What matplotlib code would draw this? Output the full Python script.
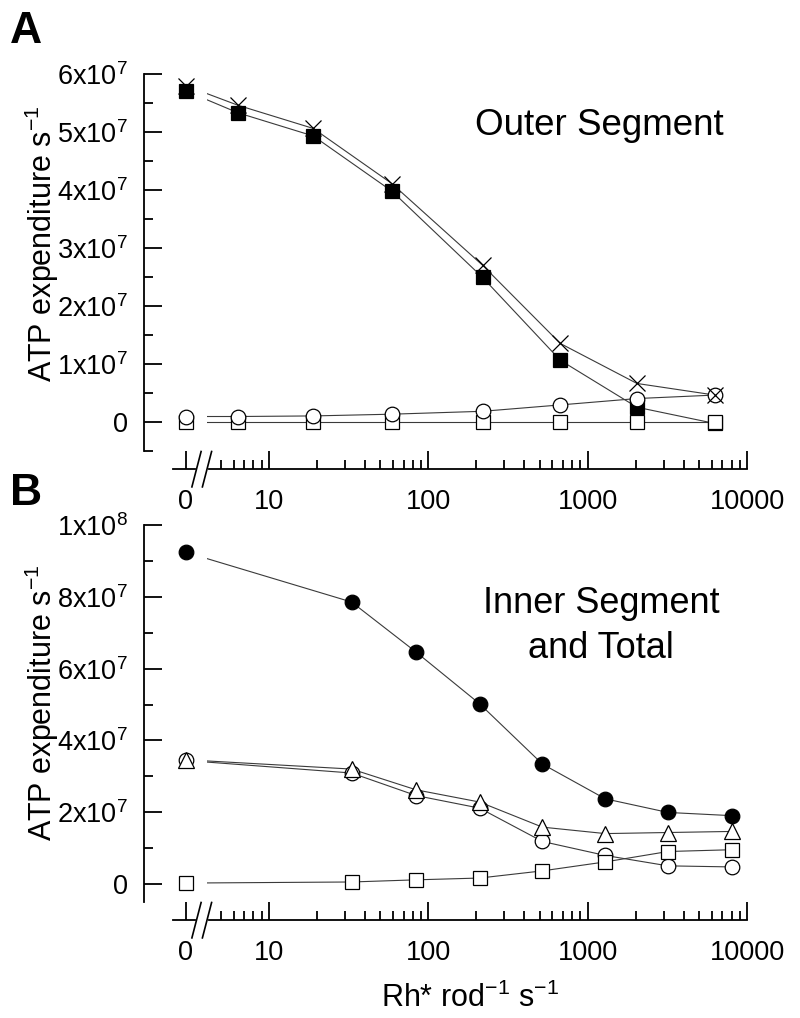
import matplotlib
matplotlib.use('Agg')
import matplotlib.pyplot as plt
from matplotlib.ticker import FixedLocator, FixedFormatter, NullFormatter

plt.rcParams['font.family'] = ['Liberation Sans', 'DejaVu Sans']
plt.rcParams['mathtext.fontset'] = 'custom'
plt.rcParams['mathtext.rm'] = 'Liberation Sans'
plt.rcParams['mathtext.it'] = 'Liberation Sans:italic'
plt.rcParams['mathtext.bf'] = 'Liberation Sans:bold'

# the "0" light level is drawn at this position of the broken log axis
ZERO_X = 3

# panel A: outer segment (values in units of 1e7 ATP/s)
rh_a = [0, 6.4, 19, 59, 219, 674, 2040, 6280]
os_filled_sq = [5.71, 5.33, 4.93, 3.98, 2.49, 1.06, 0.25, -0.03]
os_cross = [5.80, 5.46, 5.06, 4.11, 2.70, 1.35, 0.66, 0.46]
os_circle = [0.09, 0.09, 0.10, 0.13, 0.18, 0.29, 0.40, 0.46]
os_open_sq = [0.0, 0.0, 0.0, 0.0, 0.0, 0.0, 0.0, 0.0]

# panel B: inner segment and total (values in units of 1e7 ATP/s)
rh_b = [0, 33, 84, 210, 520, 1290, 3190, 8040]
tot_filled_circ = [9.25, 7.86, 6.46, 5.02, 3.34, 2.37, 1.99, 1.90]
is_triangle = [3.46, 3.20, 2.62, 2.28, 1.58, 1.40, 1.43, 1.46]
is_circle = [3.44, 3.09, 2.46, 2.11, 1.18, 0.79, 0.50, 0.47]
is_open_sq = [0.02, 0.05, 0.11, 0.16, 0.36, 0.61, 0.90, 0.95]

x_major = [ZERO_X, 10, 100, 1000, 10000]
x_major_labels = ['0', '10', '100', '1000', '10000']
x_minor = [5, 6, 7, 8, 9, 20, 30, 40, 50, 60, 70, 80, 90,
           200, 300, 400, 500, 600, 700, 800, 900,
           2000, 3000, 4000, 5000, 6000, 7000, 8000, 9000]

ya_major = [0, 1e7, 2e7, 3e7, 4e7, 5e7, 6e7]
ya_labels = ['0', '1x10$^7$', '2x10$^7$', '3x10$^7$', '4x10$^7$', '5x10$^7$', '6x10$^7$']
ya_minor = [-0.5e7, 0.5e7, 1.5e7, 2.5e7, 3.5e7, 4.5e7, 5.5e7]

yb_major = [0, 2e7, 4e7, 6e7, 8e7, 1e8]
yb_labels = ['0', '2x10$^7$', '4x10$^7$', '6x10$^7$', '8x10$^7$', '1x10$^8$']
yb_minor = [1e7, 3e7, 5e7, 7e7, 9e7]

W, H = 800, 1018
AX_L, AX_W = 173, 574     # pixel left / width of plotting box
DROP = 18.5               # x axis line sits this many px below the box
LEFT_OFF = 29             # y axis line sits this many px left of the box
LINE_C = '#3a3a3a'


def xs(vals):
    return [ZERO_X if v == 0 else v for v in vals]


def scaled(vals):
    return [v * 1e7 for v in vals]


def style_axes(ax, ymax, ymaj, ylab, ymin_ticks, h_px):
    ax.set_xscale('log')
    ax.set_xlim(2.5, 1e4)
    ax.set_ylim(-0.5e7, ymax)
    ax.spines['top'].set_visible(False)
    ax.spines['right'].set_visible(False)
    ax.spines['left'].set_position(('outward', LEFT_OFF * 0.72))
    ax.spines['bottom'].set_position(('outward', DROP * 0.72))
    for s in ('left', 'bottom'):
        ax.spines[s].set_linewidth(1.3)

    ax.xaxis.set_major_locator(FixedLocator(x_major))
    ax.xaxis.set_major_formatter(FixedFormatter(x_major_labels))
    ax.xaxis.set_minor_locator(FixedLocator(x_minor))
    ax.xaxis.set_minor_formatter(NullFormatter())
    ax.yaxis.set_major_locator(FixedLocator(ymaj))
    ax.yaxis.set_major_formatter(FixedFormatter(ylab))
    ax.yaxis.set_minor_locator(FixedLocator(ymin_ticks))
    ax.yaxis.set_minor_formatter(NullFormatter())

    ax.tick_params(which='major', direction='in', length=13, width=1.3, labelsize=19.5)
    ax.tick_params(which='minor', direction='in', length=6.5, width=1.3)
    ax.tick_params(axis='x', which='major', pad=14.5)
    ax.tick_params(axis='y', which='major', pad=11.5)

    # white gap where the data lines cross the axis break
    ax.axvspan(3.3, 4.1, color='white', zorder=2.5, lw=0)

    # axis break marks on the x axis
    y0 = -DROP / h_px
    dy = 17.7 / h_px
    ax.plot([(198 - AX_L) / AX_W, (205.5 - AX_L) / AX_W], [y0, y0],
            transform=ax.transAxes, color='white', lw=3, clip_on=False, zorder=4)
    for cx in (196.5, 207.0):
        xf = (cx - AX_L) / AX_W
        dx = 4.6 / AX_W
        ax.plot([xf - dx, xf + dx], [y0 - dy, y0 + dy], transform=ax.transAxes,
                color='black', lw=1.2, clip_on=False, zorder=5)


def series(ax, x, y, marker, ms, face, z):
    ax.plot(xs(x), scaled(y), '-', color=LINE_C, lw=0.8, zorder=2, clip_on=False)
    ax.plot(xs(x), scaled(y), ls='none', marker=marker, ms=ms, mfc=face,
            mec='black', mew=0.9, zorder=z, clip_on=False)


fig = plt.figure(figsize=(W / 100, H / 100), dpi=100)

# ---- panel A ----
ha = 450.7 - 74
ax_a = fig.add_axes([AX_L / W, 1 - 450.7 / H, AX_W / W, ha / H])
style_axes(ax_a, 6e7, ya_major, ya_labels, ya_minor, ha)
series(ax_a, rh_a, os_filled_sq, 's', 9.5, 'black', 3)
series(ax_a, rh_a, os_open_sq, 's', 9.5, 'white', 4)
series(ax_a, rh_a, os_circle, 'o', 10.5, 'white', 5)
series(ax_a, rh_a, os_cross, 'x', 12, 'none', 6)

# ---- panel B ----
hb = 901.7 - 525.3
ax_b = fig.add_axes([AX_L / W, 1 - 901.7 / H, AX_W / W, hb / H])
style_axes(ax_b, 1e8, yb_major, yb_labels, yb_minor, hb)
series(ax_b, rh_b, is_circle, 'o', 10.5, 'white', 3)
series(ax_b, rh_b, is_open_sq, 's', 9.5, 'white', 4)
series(ax_b, rh_b, is_triangle, '^', 12, 'white', 5)
series(ax_b, rh_b, tot_filled_circ, 'o', 10.5, 'black', 6)

# ---- texts ----
def ftext(px, py, s, **kw):
    fig.text(px / W, 1 - py / H, s, **kw)

ftext(10, 43, 'A', fontsize=32, fontweight='bold', va='baseline')
ftext(10, 505, 'B', fontsize=32, fontweight='bold', va='baseline')
ftext(599, 135, 'Outer Segment', fontsize=26.5, ha='center', va='baseline')
ftext(601, 613, 'Inner Segment', fontsize=26, ha='center', va='baseline')
ftext(601, 658, 'and Total', fontsize=26, ha='center', va='baseline')
ftext(42, 244, 'ATP expenditure s$^{-1}$', fontsize=22, rotation=90, ha='center', va='center')
ftext(42, 703, 'ATP expenditure s$^{-1}$', fontsize=22, rotation=90, ha='center', va='center')
ftext(470, 1007, 'Rh* rod$^{-1}$ s$^{-1}$', fontsize=22, ha='center', va='baseline')

fig.savefig('out.png', dpi=100)
